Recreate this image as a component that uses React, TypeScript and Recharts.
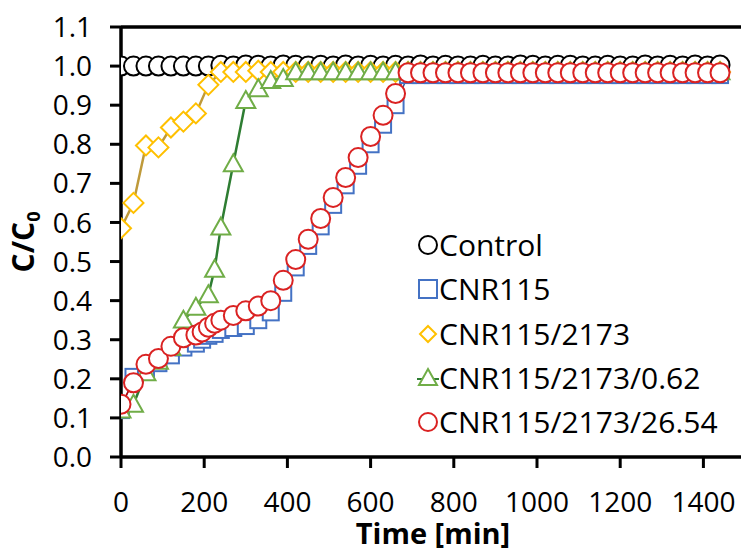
import type { FC, ReactElement } from "react";
import {
  Legend,
  Line,
  LineChart,
  ReferenceLine,
  XAxis,
  YAxis,
} from "recharts";

// Sampling times [min]
const T_CONTROL = [
  0, 30, 60, 90, 120, 150, 180, 210, 240, 270, 300, 330, 360, 390, 420, 450,
  480, 510, 540, 570, 600, 630, 660, 690, 720, 750, 780, 810, 840, 870, 900,
  930, 960, 990, 1020, 1050, 1080, 1110, 1140, 1170, 1200, 1230, 1260, 1290,
  1320, 1350, 1380, 1410, 1440,
];
const T_CNR = [
  0, 30, 60, 90, 120, 150, 180, 195, 210, 225, 240, 270, 300, 330, 360, 390,
  420, 450, 480, 510, 540, 570, 600, 630, 660, 690, 720, 750, 780, 810, 840,
  870, 900, 930, 960, 990, 1020, 1050, 1080, 1110, 1140, 1170, 1200, 1230,
  1260, 1290, 1320, 1350, 1380, 1410, 1440,
];
const T_GREEN = [
  0, 30, 60, 90, 120, 150, 180, 210, 225, 240, 270, 300, 330, 360, 390, 420,
  450, 480, 510, 540, 570, 600, 630, 660, 690, 720, 750, 780, 810, 840, 870,
  900, 930, 960, 990, 1020, 1050, 1080, 1110, 1140, 1170, 1200, 1230, 1260,
  1290, 1320, 1350, 1380, 1410, 1440,
];

// C/C0 values
const CONTROL = [
  1.0, 1.0, 1.0, 1.0, 1.0, 1.0, 1.0, 1.0, 1.002, 1.0, 1.003, 1.002, 1.0, 1.003,
  1.002, 1.0, 1.002, 1.0, 1.003, 1.0, 1.002, 1.0, 1.002, 1.0, 1.003, 1.0,
  1.002, 1.0, 1.0, 1.002, 1.0, 1.0, 1.003, 1.002, 1.0, 1.002, 1.002, 1.0,
  1.0, 1.002, 1.0, 1.0, 1.003, 1.0, 1.002, 1.0, 1.003, 1.0, 1.003,
];
const CNR115 = [
  0.12, 0.205, 0.225, 0.24, 0.26, 0.28, 0.29, 0.3, 0.31, 0.315, 0.325, 0.33,
  0.335, 0.35, 0.37, 0.42, 0.485, 0.54, 0.59, 0.645, 0.695, 0.745, 0.8, 0.85,
  0.9, 0.977, 0.977, 0.977, 0.977, 0.977, 0.977, 0.977, 0.977, 0.977, 0.977,
  0.977, 0.977, 0.977, 0.977, 0.977, 0.977, 0.977, 0.977, 0.977, 0.977, 0.977,
  0.977, 0.977, 0.977, 0.977, 0.977,
];
const CNR115_2173 = [
  0.585, 0.65, 0.797, 0.792, 0.843, 0.858, 0.879, 0.952, 0.985, 0.985, 0.985,
  0.988, 0.985, 0.985, 0.985, 0.985, 0.985, 0.985, 0.985, 0.985, 0.985, 0.985,
  0.985, 0.985, 0.985, 0.985, 0.985, 0.985, 0.985, 0.985, 0.985, 0.985, 0.985,
  0.985, 0.985, 0.985, 0.985, 0.985, 0.985, 0.985, 0.985, 0.985, 0.985, 0.985,
  0.985, 0.985, 0.985, 0.985, 0.985,
];
const CNR115_2173_062 = [
  0.12, 0.135, 0.215, 0.245, 0.28, 0.35, 0.383, 0.415, 0.48, 0.588, 0.75,
  0.912, 0.942, 0.963, 0.968, 0.985, 0.985, 0.985, 0.985, 0.985, 0.985, 0.985,
  0.985, 0.985, 0.985, 0.985, 0.985, 0.985, 0.985, 0.985, 0.985, 0.985, 0.985,
  0.985, 0.985, 0.985, 0.985, 0.985, 0.985, 0.985, 0.985, 0.985, 0.985, 0.985,
  0.985, 0.985, 0.985, 0.985, 0.985, 0.985,
];
const CNR115_2173_2654 = [
  0.135, 0.19, 0.237, 0.252, 0.283, 0.305, 0.312, 0.32, 0.332, 0.342, 0.35,
  0.362, 0.374, 0.386, 0.4, 0.452, 0.505, 0.557, 0.61, 0.664, 0.715, 0.766,
  0.82, 0.874, 0.93, 0.983, 0.983, 0.983, 0.983, 0.983, 0.983, 0.983, 0.983,
  0.983, 0.983, 0.983, 0.983, 0.983, 0.983, 0.983, 0.983, 0.983, 0.983, 0.983,
  0.983, 0.983, 0.983, 0.983, 0.983, 0.983, 0.983,
];

const X_TICKS = [0, 200, 400, 600, 800, 1000, 1200, 1400];
const Y_TICKS = [0, 0.1, 0.2, 0.3, 0.4, 0.5, 0.6, 0.7, 0.8, 0.9, 1.0, 1.1];

const FONT = '"Open Sans", sans-serif';
const CHART_H = 552;
const X_AXIS_H = 95;
const PLOT_BOTTOM = CHART_H - X_AXIS_H;

type Kind = "circle" | "square" | "diamond" | "triangle";

type Series = {
  name: string;
  kind: Kind;
  marker: string;
  line: string;
  lineWidth: number;
  size: number;
  data: { t: number; v: number }[];
};

const zip = (ts: number[], vs: number[]) => ts.map((t, i) => ({ t, v: vs[i] }));

const SERIES: Series[] = [
  { name: "Control", kind: "circle", marker: "#000000", line: "#000000", lineWidth: 1.5, size: 9.5, data: zip(T_CONTROL, CONTROL) },
  { name: "CNR115", kind: "square", marker: "#4472C4", line: "#2F5597", lineWidth: 1.5, size: 8, data: zip(T_CNR, CNR115) },
  { name: "CNR115/2173", kind: "diamond", marker: "#FFC000", line: "#BF9A3A", lineWidth: 2.5, size: 10, data: zip(T_CONTROL, CNR115_2173) },
  { name: "CNR115/2173/0.62", kind: "triangle", marker: "#70AD47", line: "#2E7D32", lineWidth: 2.5, size: 9.5, data: zip(T_GREEN, CNR115_2173_062) },
  { name: "CNR115/2173/26.54", kind: "circle", marker: "#DA2222", line: "#C00000", lineWidth: 1.5, size: 9.5, data: zip(T_CNR, CNR115_2173_2654) },
];

// hollow marker drawn at (cx, cy)
const shape = (kind: Kind, cx: number, cy: number, s: number, color: string, key?: string): ReactElement => {
  const common = { fill: "#fff", stroke: color, strokeWidth: 2 };
  if (kind === "square")
    return <rect key={key} x={cx - s} y={cy - s} width={2 * s} height={2 * s} {...common} />;
  if (kind === "diamond")
    return <polygon key={key} points={`${cx},${cy - s} ${cx + s},${cy} ${cx},${cy + s} ${cx - s},${cy}`} {...common} />;
  if (kind === "triangle")
    return <polygon key={key} points={`${cx},${cy - s} ${cx + s},${cy + s * 0.78} ${cx - s},${cy + s * 0.78}`} {...common} />;
  return <circle key={key} cx={cx} cy={cy} r={s} {...common} />;
};

const LegendBox: FC = () => (
  <div style={{ fontFamily: FONT, fontSize: 30, color: "#000" }}>
    {SERIES.map((s) => (
      <div key={s.name} style={{ display: "flex", alignItems: "center", height: 44.3, whiteSpace: "nowrap" }}>
        <svg width={22} height={24}>
          {s.kind === "triangle" && <line x1={0} y1={13} x2={22} y2={13} stroke={s.line} strokeWidth={2} />}
          {shape(s.kind, 11, 12, s.kind === "diamond" ? 8 : 9, s.marker)}
        </svg>
        <span style={{ lineHeight: "44px" }}>{s.name}</span>
      </div>
    ))}
  </div>
);

const XTick = (p: any) => (
  <text x={p.x} y={PLOT_BOTTOM + 55} textAnchor="middle" fontFamily={FONT} fontSize={28} fill="#000">
    {p.payload.value}
  </text>
);

const YTick = (p: any) => (
  <text x={92} y={p.y} dy="0.36em" textAnchor="end" fontFamily={FONT} fontSize={28} fill="#000">
    {Number(p.payload.value).toFixed(1)}
  </text>
);

const YTitle = (props: any) => {
  const vb = props?.viewBox ?? { x: 0, y: 27, width: 121, height: 430 };
  const x = vb.x + 34;
  const y = vb.y + vb.height / 2;
  return (
    <text
      x={x}
      y={y}
      transform={`rotate(-90, ${x}, ${y})`}
      textAnchor="middle"
      fontFamily={FONT}
      fontWeight="bold"
      fontSize={30}
      fill="#000"
    >
      C/C
      <tspan fontSize={18} dy={6}>0</tspan>
    </text>
  );
};

const App: FC = () => (
  <div
    style={{
      position: "absolute",
      left: 0,
      top: 0,
      width: 741,
      height: 552,
      overflow: "hidden",
      background: "#fff",
      fontFamily: FONT,
    }}
  >
    <LineChart width={745} height={CHART_H} margin={{ top: 27, right: 0, bottom: 0, left: 0 }}>
      <XAxis
        type="number"
        dataKey="t"
        domain={[0, 1500]}
        ticks={X_TICKS}
        allowDataOverflow
        height={X_AXIS_H}
        tickSize={11}
        axisLine={{ stroke: "#000", strokeWidth: 3.5 }}
        tickLine={{ stroke: "#000", strokeWidth: 3 }}
        tick={(p: any) => <XTick {...p} />}
        label={{
          value: "Time [min]",
          position: "insideBottom",
          offset: 8,
          style: { fontSize: 29, fontWeight: "bold", fill: "#000", fontFamily: FONT },
        }}
      />
      <YAxis
        type="number"
        domain={[0, 1.1]}
        ticks={Y_TICKS}
        width={121}
        tickSize={11}
        axisLine={{ stroke: "#000", strokeWidth: 3.5 }}
        tickLine={{ stroke: "#000", strokeWidth: 3 }}
        tick={(p: any) => <YTick {...p} />}
        label={(p: any) => <YTitle {...p} />}
      />
      <ReferenceLine y={1.1} stroke="#000" strokeWidth={3.5} ifOverflow="visible" />
      <Legend
        layout="vertical"
        align="center"
        verticalAlign="middle"
        wrapperStyle={{ left: 417, top: 223, width: 330 }}
        content={() => <LegendBox />}
      />
      {SERIES.map((s) => (
        <Line
          key={s.name}
          data={s.data}
          dataKey="v"
          name={s.name}
          type="linear"
          stroke={s.line}
          strokeWidth={s.lineWidth}
          isAnimationActive={false}
          dot={(p: any) => shape(s.kind, p.cx, p.cy, s.size, s.marker, `${s.name}-${p.index}`)}
          activeDot={false}
        />
      ))}
    </LineChart>
  </div>
);

export default App;
